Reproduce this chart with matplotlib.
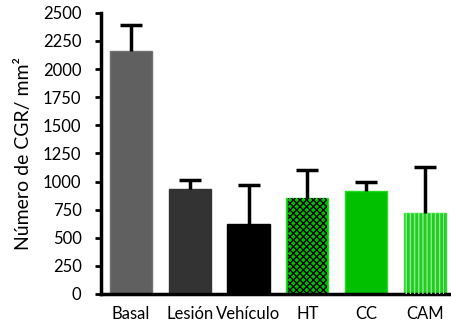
import numpy as np
import matplotlib
matplotlib.use("Agg")
import matplotlib.pyplot as plt

plt.rcParams['font.family'] = ['Lato', 'DejaVu Sans']
plt.rcParams['hatch.linewidth'] = 1.0

# data
groups = ["Basal", "Lesión", "Vehículo", "HT", "CC", "CAM"]
means = [2165, 934, 623, 851, 916, 718]
upper = [2396, 1014, 972, 1103, 999, 1133]
errors = [u - m for u, m in zip(upper, means)]

colors = ["#606060", "#333333", "#000000", "#00c000", "#00c000", "#22cc22"]
edges = ["#707070", "#333333", "#000000", "#22dd22", "#22dd22", "#33dd33"]
hatches = [None, None, None, "xxxxx", None, "||||"]
hatch_colors = [None, None, None, "#000000", None, "#88ee88"]

fig = plt.figure(figsize=(4.52, 3.25), dpi=100)
ax = fig.add_axes([0.2235, 0.0954, 0.775, 0.865])

x = np.arange(len(groups))
ax.bar(x, means, width=0.72, color=colors, edgecolor=edges, linewidth=1.0, zorder=2)
for xi, m, h, hc in zip(x, means, hatches, hatch_colors):
    if h:
        ax.bar(xi, m, width=0.66, color="none", edgecolor=hc, hatch=h, linewidth=0, zorder=3)

# only the upper half of the error bars
eb = ax.errorbar(x, means, yerr=[np.zeros(len(means)), errors], fmt="none",
                 ecolor="black", elinewidth=2.5, capsize=8, capthick=2.5, zorder=4)
eb[1][0].set_visible(False)

ax.set_xlim(-0.51, 5.45)
ax.set_ylim(0, 2500)
ax.set_yticks(np.arange(0, 2501, 250))
ax.set_xticks(x)
ax.set_xticklabels(groups, fontsize=12)
ax.tick_params(axis='y', labelsize=12, width=2, length=4, direction='out', pad=10)
ax.tick_params(axis='x', length=0, pad=9)
ax.set_ylabel("Número de CGR/ mm²", fontsize=14, labelpad=8)

for s in ["top", "right"]:
    ax.spines[s].set_visible(False)
ax.spines["left"].set_linewidth(2.5)
ax.spines["bottom"].set_linewidth(2.5)

fig.savefig("out.png", dpi=100)
